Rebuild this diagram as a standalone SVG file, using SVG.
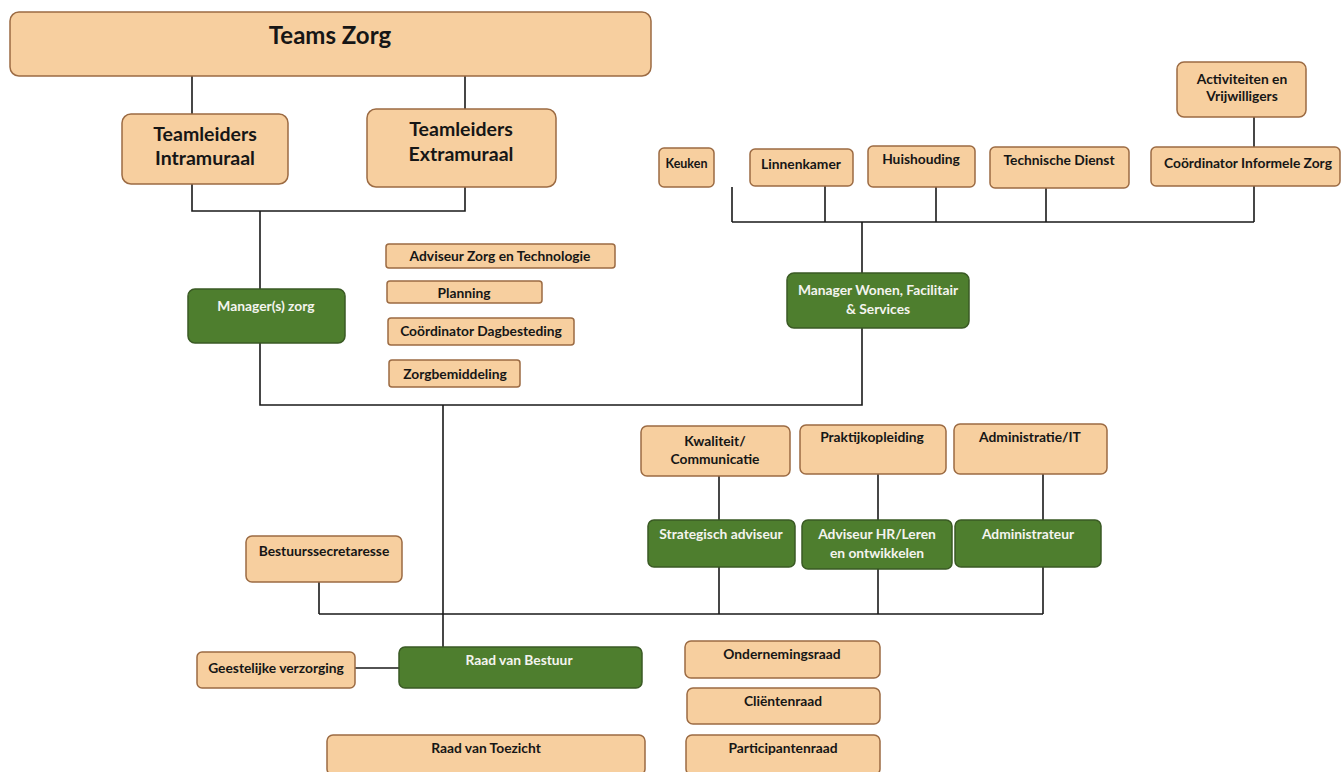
<svg xmlns="http://www.w3.org/2000/svg" width="1344" height="772" viewBox="0 0 1344 772">
<style>
.p{fill:#f7cf9f;stroke:#9c6b43;stroke-width:1.5}
.g{fill:#4e7e2e;stroke:#3a5a24;stroke-width:1.5}
text{font-family:Lato,"Open Sans","Liberation Sans",sans-serif;font-weight:bold;text-anchor:middle}
.t{fill:#161616;font-size:13.8px}
.w{fill:#f4f4ee;font-size:13.8px}
.b{fill:#161616;font-size:19.5px}
.c path{fill:none;stroke:#1a1a1a;stroke-width:1.6}
</style>
<rect width="1344" height="772" fill="#ffffff"/>
<g class="c" id="connectors">
<path d="M192 76V114M465 76V109M192 184V211H465V187M260 211V289"/>
<path d="M260 343V405H862V328M443 405V647"/>
<path d="M862 273V222M732 222H1254M732 187V222M825 186V222M936 187V222M1046 188V222M1254 186V222M1254 117V147"/>
<path d="M719 476V520M878 474V520M1043 474V520M719 567V614M878 569V614M1043 567V614M319 614H1043M319 582V614"/>
<path d="M355 668H399"/>
</g>
<g id="teams-zorg"><rect class="p" x="10" y="12" width="641" height="64" rx="9"/><text class="b" x="330" y="44" style="font-size:24px">Teams Zorg</text></g>
<g id="tl-intra"><rect class="p" x="122" y="114" width="166" height="70" rx="9"/><text class="b" x="205" y="141">Teamleiders</text><text class="b" x="205" y="165">Intramuraal</text></g>
<g id="tl-extra"><rect class="p" x="367" y="109" width="189" height="78" rx="9"/><text class="b" x="461" y="136">Teamleiders</text><text class="b" x="461" y="161">Extramuraal</text></g>
<g id="manager-zorg"><rect class="g" x="188" y="289" width="157" height="54" rx="7"/><text class="w" x="266" y="311">Manager(s) zorg</text></g>
<g id="adviseur-zt"><rect class="p" x="386" y="244" width="229" height="24" rx="3"/><text class="t" x="500" y="261">Adviseur Zorg en Technologie</text></g>
<g id="planning"><rect class="p" x="387" y="281" width="155" height="22" rx="3"/><text class="t" x="464" y="298">Planning</text></g>
<g id="dagbesteding"><rect class="p" x="388" y="318" width="186" height="27" rx="3"/><text class="t" x="481" y="336">Coördinator Dagbesteding</text></g>
<g id="zorgbemiddeling"><rect class="p" x="389" y="360" width="131" height="27" rx="3"/><text class="t" x="455" y="379">Zorgbemiddeling</text></g>
<g id="manager-wonen"><rect class="g" x="787" y="273" width="182" height="55" rx="7"/><text class="w" x="878" y="295">Manager Wonen, Facilitair</text><text class="w" x="878" y="314">&amp; Services</text></g>
<g id="keuken"><rect class="p" x="659" y="148" width="55" height="39" rx="5"/><text class="t" x="686.5" y="168" style="font-size:12.5px">Keuken</text></g>
<g id="linnenkamer"><rect class="p" x="750" y="149" width="103" height="37" rx="5"/><text class="t" x="801" y="169">Linnenkamer</text></g>
<g id="huishouding"><rect class="p" x="868" y="146" width="107" height="41" rx="5"/><text class="t" x="921" y="164">Huishouding</text></g>
<g id="technische-dienst"><rect class="p" x="990" y="147" width="139" height="41" rx="5"/><text class="t" x="1059" y="165">Technische Dienst</text></g>
<g id="coord-informele"><rect class="p" x="1151" y="147" width="189" height="39" rx="5"/><text class="t" x="1248" y="168">Coördinator Informele Zorg</text></g>
<g id="activiteiten"><rect class="p" x="1177" y="62" width="129" height="55" rx="7"/><text class="t" x="1242" y="84">Activiteiten en</text><text class="t" x="1242" y="101">Vrijwilligers</text></g>
<g id="kwaliteit"><rect class="p" x="641" y="426" width="149" height="50" rx="6"/><text class="t" x="715" y="446">Kwaliteit/</text><text class="t" x="715" y="464">Communicatie</text></g>
<g id="praktijkopleiding"><rect class="p" x="800" y="425" width="146" height="49" rx="6"/><text class="t" x="872" y="442">Praktijkopleiding</text></g>
<g id="administratie-it"><rect class="p" x="954" y="424" width="153" height="50" rx="6"/><text class="t" x="1030" y="442">Administratie/IT</text></g>
<g id="strategisch"><rect class="g" x="648" y="520" width="147" height="47" rx="6"/><text class="w" x="721" y="539">Strategisch adviseur</text></g>
<g id="adviseur-hr"><rect class="g" x="802" y="520" width="150" height="49" rx="6"/><text class="w" x="877" y="539">Adviseur HR/Leren</text><text class="w" x="877" y="558">en ontwikkelen</text></g>
<g id="administrateur"><rect class="g" x="955" y="520" width="146" height="47" rx="6"/><text class="w" x="1028" y="539">Administrateur</text></g>
<g id="bestuurssecretaresse"><rect class="p" x="246" y="536" width="156" height="46" rx="6"/><text class="t" x="324" y="556">Bestuurssecretaresse</text></g>
<g id="raad-bestuur"><rect class="g" x="399" y="647" width="243" height="41" rx="6"/><text class="w" x="519" y="665">Raad van Bestuur</text></g>
<g id="geestelijke"><rect class="p" x="197" y="652" width="158" height="36" rx="5"/><text class="t" x="276" y="673">Geestelijke verzorging</text></g>
<g id="raad-toezicht"><rect class="p" x="327" y="735" width="318" height="40" rx="6"/><text class="t" x="486" y="753">Raad van Toezicht</text></g>
<g id="ondernemingsraad"><rect class="p" x="685" y="641" width="195" height="37" rx="6"/><text class="t" x="782" y="659">Ondernemingsraad</text></g>
<g id="clientenraad"><rect class="p" x="687" y="688" width="193" height="36" rx="6"/><text class="t" x="783" y="706">Cliëntenraad</text></g>
<g id="participantenraad"><rect class="p" x="686" y="735" width="194" height="40" rx="6"/><text class="t" x="783" y="753">Participantenraad</text></g>
</svg>
